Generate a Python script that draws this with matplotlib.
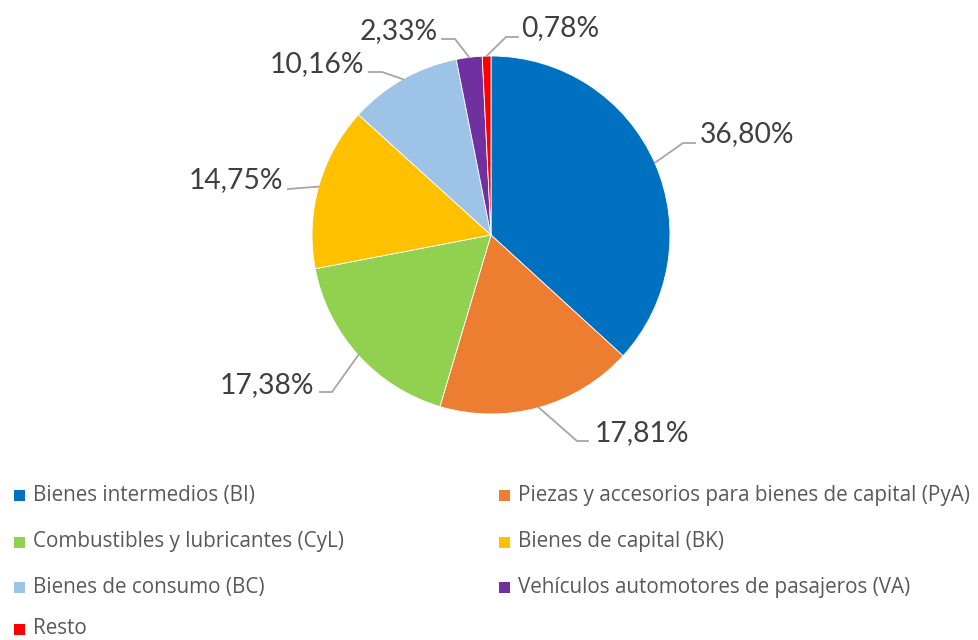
import matplotlib
matplotlib.use("Agg")
import matplotlib.pyplot as plt
from matplotlib.patches import Rectangle
import numpy as np

# ---- data ----
categories = [
    "Bienes intermedios (BI)",
    "Piezas y accesorios para bienes de capital (PyA)",
    "Combustibles y lubricantes (CyL)",
    "Bienes de capital (BK)",
    "Bienes de consumo (BC)",
    "Vehículos automotores de pasajeros (VA)",
    "Resto",
]
shares = [36.80, 17.81, 17.38, 14.75, 10.16, 2.33, 0.78]
colors = ["#0070C0", "#ED7D31", "#92D050", "#FFC000", "#9DC3E6", "#7030A0", "#FF0000"]

# ---- layout (pixels) ----
W, H = 979, 640
CX, CY, R = 491, 235, 179
# per label: elbow point, line end, text anchor, horizontal alignment
elbows = [(683, 143), (577, 441), (332, 392), (288, 189), (382, 72), (455, 39), (506, 37)]
ends = [(695, 143), (588, 441), (320, 392), (288, 189), (369, 72), (442, 39), (518, 37)]
texts = [(700, 134), (595, 433), (314, 385), (283, 180), (364, 64), (438, 31), (521, 28)]
aligns = ["left", "left", "right", "right", "right", "right", "left"]

FONT = "Lato"
LEG_FONT = "Open Sans"
fig = plt.figure(figsize=(W / 100, H / 100), dpi=100)
ax = fig.add_axes([(CX - R) / W, (H - CY - R) / H, 2 * R / W, 2 * R / H])
wedges, _ = ax.pie(shares, colors=colors, startangle=90, counterclock=False,
                   radius=1, wedgeprops=dict(edgecolor="white", linewidth=0.6))
ax.set_xlim(-1, 1)
ax.set_ylim(-1, 1)
ax.set_aspect("equal")
ax.axis("off")


def to_data(p):
    return ((p[0] - CX) / R, (CY - p[1]) / R)


for w, v, e, en, t, ha in zip(wedges, shares, elbows, ends, texts, aligns):
    mid = np.deg2rad((w.theta1 + w.theta2) / 2)
    x0, y0 = np.cos(mid), np.sin(mid)
    ex, ey = to_data(e)
    nx, ny = to_data(en)
    ax.plot([x0, ex, nx], [y0, ey, ny], color="#A6A6A6", lw=1.3, clip_on=False,
            solid_joinstyle="miter")
    tx, ty = to_data(t)
    lab = f"{v:.2f}".replace(".", ",") + "%"
    ax.text(tx, ty, lab, ha=ha, va="center", fontsize=20.3, color="#404040",
            family=FONT, clip_on=False)

# ---- legend (row-major, 2 columns) ----
row_y = [495, 542, 587, 629]
col_x = [14, 499]
for i, (lab, c) in enumerate(zip(categories, colors)):
    r, col = divmod(i, 2)
    x = col_x[col]
    y = row_y[r]
    fig.patches.append(Rectangle(((x) / W, (H - y - 5.5) / H), 11 / W, 11 / H,
                                 transform=fig.transFigure, facecolor=c, edgecolor="none"))
    fig.text((x + 19) / W, (H - y) / H, lab, ha="left", va="center",
             fontsize=14.9, color="#595959", family=LEG_FONT)

fig.savefig("out.png", dpi=100)
